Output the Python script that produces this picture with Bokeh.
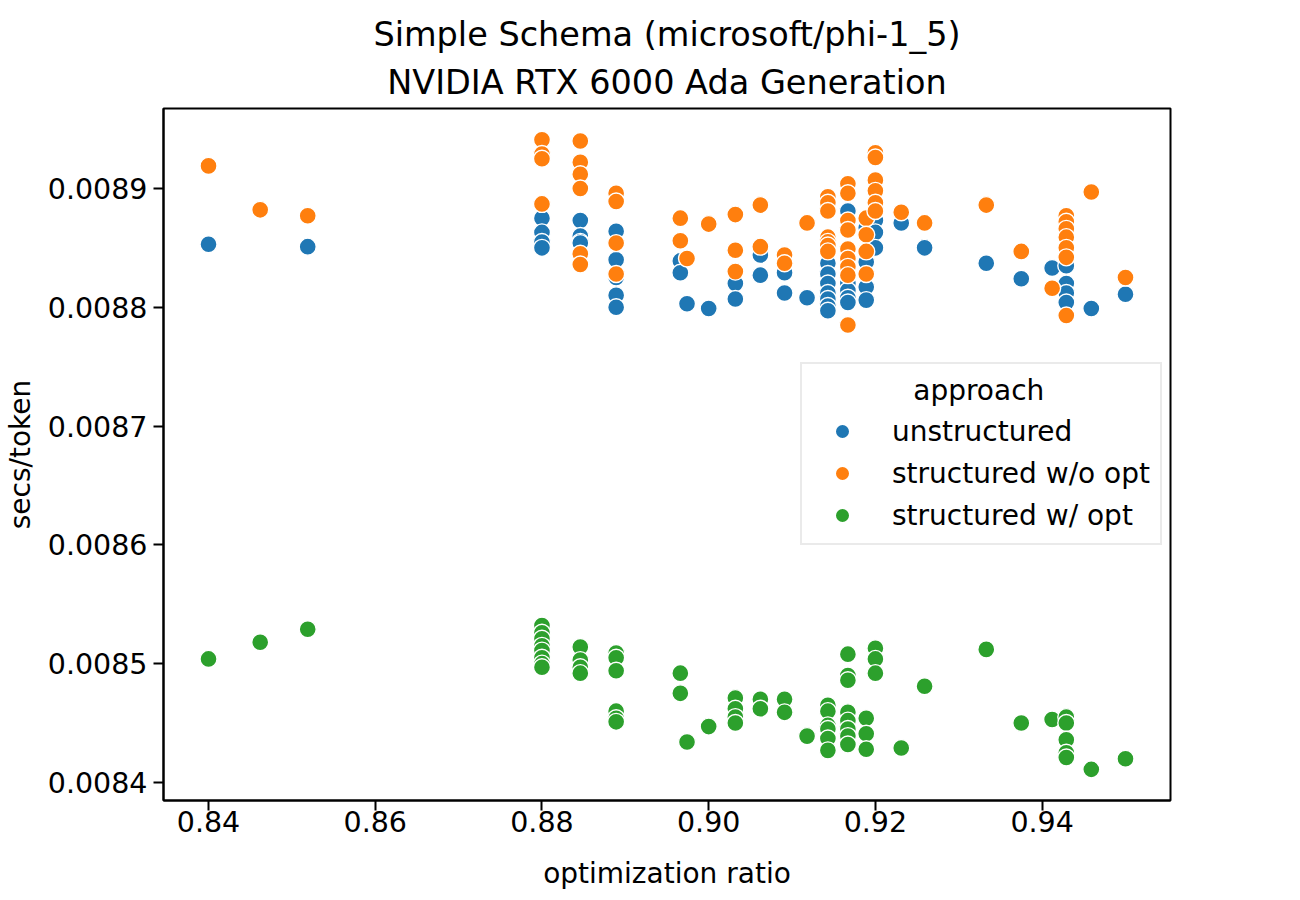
from bokeh.plotting import figure
from bokeh.models import (Range1d, FixedTicker, PrintfTickFormatter, Legend,
                          LegendItem, Label, Title)
from bokeh.embed import file_html
from bokeh.resources import INLINE

# ---------------- data ----------------
ratios = [0.84, 0.8462, 0.8519, 0.88, 0.8846, 0.8889, 0.8966, 0.8974, 0.90,
          0.9032, 0.9062, 0.9091, 0.9118, 0.9143, 0.9167, 0.9189, 0.92, 0.9231,
          0.9259, 0.9333, 0.9375, 0.9412, 0.9429, 0.9459, 0.95]

unstructured = [
    [0.008853], [], [0.008851],
    [0.008875, 0.008863, 0.008855, 0.008850],
    [0.008873, 0.008860, 0.008855, 0.008854],
    [0.008864, 0.008840, 0.008825, 0.008810, 0.008800],
    [0.008839, 0.008829], [0.008803], [0.008799],
    [0.008820, 0.008807], [0.008844, 0.008827], [0.008829, 0.008812], [0.008808],
    [0.008837, 0.008828, 0.008820, 0.008812, 0.008807, 0.008801, 0.008797],
    [0.008881, 0.008820, 0.008814, 0.008808, 0.008804],
    [0.008867, 0.008838, 0.008817, 0.008806],
    [0.008873, 0.008863, 0.008850], [0.008871], [0.008850],
    [0.008837], [0.008824], [0.008833],
    [0.008835, 0.008820, 0.008812, 0.008804], [0.008799], [0.008811],
]

structured_wo_opt = [
    [0.008919], [0.008882], [0.008877],
    [0.008941, 0.008929, 0.008925, 0.008887],
    [0.008940, 0.008922, 0.008912, 0.008900, 0.008845, 0.008836],
    [0.008896, 0.008889, 0.008854, 0.008828],
    [0.008875, 0.008856], [0.008841], [0.008870],
    [0.008878, 0.008848, 0.008830], [0.008886, 0.008851], [0.008844, 0.008837],
    [0.008871],
    [0.008893, 0.008888, 0.008881, 0.008859, 0.008855, 0.008852, 0.008847],
    [0.008904, 0.008896, 0.008873, 0.008865, 0.008849, 0.008841, 0.008834,
     0.008827, 0.008785],
    [0.008875, 0.008861, 0.008847, 0.008828],
    [0.008930, 0.008926, 0.008907, 0.008898, 0.008888, 0.008881],
    [0.008880], [0.008871], [0.008886], [0.008847], [0.008816],
    [0.008877, 0.008872, 0.008866, 0.008859, 0.008850, 0.008842, 0.008793],
    [0.008897], [0.008825],
]

structured_w_opt = [
    [0.008504], [0.008518], [0.008529],
    [0.008532, 0.008526, 0.008521, 0.008515, 0.008511, 0.008505, 0.008500, 0.008497],
    [0.008514, 0.008503, 0.008497, 0.008492],
    [0.008509, 0.008505, 0.008494, 0.008460, 0.008454, 0.008451],
    [0.008492, 0.008475], [0.008434], [0.008447],
    [0.008471, 0.008462, 0.008455, 0.008450], [0.008470, 0.008462],
    [0.008470, 0.008459], [0.008439],
    [0.008465, 0.008460, 0.008448, 0.008445, 0.008437, 0.008427],
    [0.008508, 0.008490, 0.008486, 0.008459, 0.008452, 0.008445, 0.008439, 0.008432],
    [0.008454, 0.008441, 0.008428],
    [0.008513, 0.008504, 0.008492], [0.008429], [0.008481], [0.008512],
    [0.008450], [0.008453],
    [0.008455, 0.008450, 0.008436, 0.008425, 0.008421], [0.008411], [0.008420],
]

series_names = ["unstructured", "structured w/o opt", "structured w/ opt"]
series_values = [unstructured, structured_wo_opt, structured_w_opt]
series_colors = ["#1f77b4", "#ff7f0e", "#2ca02c"]

title_lines = ["Simple Schema (microsoft/phi-1_5)", "NVIDIA RTX 6000 Ada Generation"]
x_ticks = [0.84, 0.86, 0.88, 0.90, 0.92, 0.94]
y_ticks = [0.0084, 0.0085, 0.0086, 0.0087, 0.0088, 0.0089]

FONT = "DejaVu Sans"

# ---------------- figure ----------------
p = figure(width=1296, height=898,
           x_range=Range1d(0.8346, 0.9554),
           y_range=Range1d(0.0083848, 0.0089673),
           output_backend="svg", toolbar_location=None,
           min_border_left=163, min_border_right=126,
           min_border_top=108, min_border_bottom=98)
p.background_fill_color = "white"
p.border_fill_color = "white"
p.grid.visible = False
p.outline_line_color = "black"
p.outline_line_width = 2
p.outline_line_alpha = 1.0

p.title.text = ""
p.title.visible = False
p.add_layout(Title(text=title_lines[1], align="center", text_font=FONT,
                   text_font_size="33.5px", text_font_style="normal",
                   text_color="black", text_line_height=0.85, standoff=14), "above")
p.add_layout(Title(text=title_lines[0], align="center", text_font=FONT,
                   text_font_size="33.5px", text_font_style="normal",
                   text_color="black", text_line_height=0.85, standoff=0), "above")

for ax in (p.xaxis[0], p.yaxis[0]):
    ax.axis_line_width = 2
    ax.major_tick_line_width = 2
    ax.major_tick_out = 10
    ax.major_tick_in = 0
    ax.minor_tick_line_color = None
    ax.major_label_text_font = FONT
    ax.major_label_text_font_size = "28.5px"
    ax.major_label_text_color = "black"
    ax.axis_label_text_font = FONT
    ax.axis_label_text_font_size = "28px"
    ax.axis_label_text_font_style = "normal"
    ax.axis_label_text_color = "black"

p.xaxis.major_label_standoff = 0
p.yaxis.major_label_standoff = 6
p.xaxis.ticker = FixedTicker(ticks=x_ticks)
p.xaxis.formatter = PrintfTickFormatter(format="%.2f")
p.yaxis.ticker = FixedTicker(ticks=y_ticks)
p.yaxis.formatter = PrintfTickFormatter(format="%.4f")
p.xaxis.axis_label = "optimization ratio"
p.yaxis.axis_label = "secs/token"
p.xaxis.axis_label_standoff = 22
p.yaxis.axis_label_standoff = 8

items = []
for name, vals, color in zip(series_names, series_values, series_colors):
    xs, ys = [], []
    for r, group in zip(ratios, vals):
        for v in group:
            xs.append(r)
            ys.append(v)
    rend = p.scatter(xs, ys, size=17, fill_color=color, line_color="white",
                     line_width=1.4)
    items.append(LegendItem(label=name, renderers=[rend]))

legend = Legend(items=items, location=(637, 255), title=" ",
                title_text_font=FONT, title_text_font_size="28px",
                title_standoff=6,
                label_text_font=FONT, label_text_font_size="28px",
                label_text_color="black",
                padding=10, glyph_width=60, glyph_height=36,
                label_standoff=20, spacing=6, margin=0,
                border_line_color="#d6d6d6", border_line_width=2,
                background_fill_alpha=0.0)
p.add_layout(legend, "center")

p.add_layout(Label(x=0.9324, y=0.00873, text="approach", text_font=FONT,
                   text_font_size="28px", text_align="center",
                   text_baseline="middle", text_color="black"))

open("out.html", "w").write(file_html(p, INLINE))
